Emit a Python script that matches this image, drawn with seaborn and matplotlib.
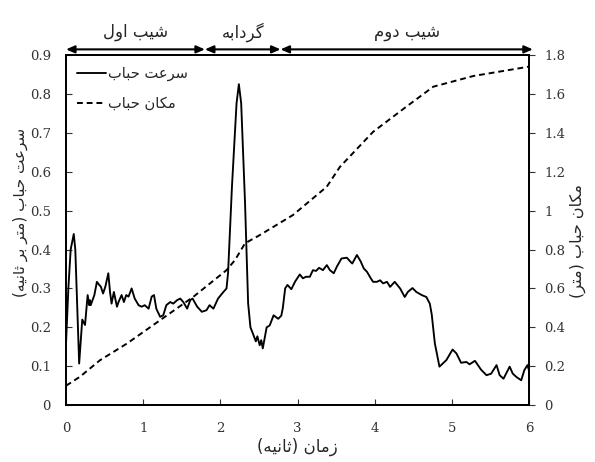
import matplotlib
matplotlib.use("Agg")
import matplotlib.pyplot as plt
import seaborn as sns

# bubble speed (m/s) vs time (s)
t_speed = [0.00, 0.03, 0.06, 0.10, 0.12, 0.17, 0.21, 0.246, 0.28, 0.30,
           0.31, 0.32, 0.367, 0.40, 0.43, 0.45, 0.48, 0.51, 0.548, 0.57,
           0.59, 0.62, 0.66, 0.68, 0.72, 0.75, 0.78, 0.81, 0.85, 0.89,
           0.94, 0.98, 1.02, 1.07, 1.11, 1.14, 1.17, 1.22, 1.26, 1.30,
           1.35, 1.39, 1.44, 1.48, 1.52, 1.57, 1.61, 1.64, 1.70, 1.76,
           1.82, 1.86, 1.91, 1.97, 2.04, 2.08, 2.10, 2.15, 2.21, 2.24,
           2.27, 2.32, 2.36, 2.39, 2.42, 2.46, 2.48, 2.51, 2.53, 2.55,
           2.60, 2.64, 2.69, 2.75, 2.79, 2.81, 2.84, 2.87, 2.92, 2.97,
           3.03, 3.07, 3.11, 3.16, 3.20, 3.24, 3.28, 3.33, 3.38, 3.42,
           3.47, 3.51, 3.57, 3.64, 3.68, 3.71, 3.77, 3.82, 3.86, 3.90,
           3.95, 3.98, 4.03, 4.07, 4.11, 4.16, 4.20, 4.26, 4.33, 4.39,
           4.43, 4.49, 4.54, 4.61, 4.67, 4.715, 4.74, 4.78, 4.84, 4.93,
           5.01, 5.06, 5.12, 5.19, 5.23, 5.30, 5.38, 5.45, 5.51, 5.58,
           5.62, 5.67, 5.75, 5.79, 5.84, 5.90, 5.94, 5.98, 6.00]
speed = [0.16, 0.30, 0.40, 0.44, 0.40, 0.107, 0.22, 0.206, 0.283, 0.257,
         0.27, 0.257, 0.283, 0.317, 0.309, 0.305, 0.287, 0.305, 0.339, 0.291,
         0.261, 0.291, 0.253, 0.265, 0.283, 0.265, 0.283, 0.279, 0.30, 0.274,
         0.257, 0.253, 0.257, 0.248, 0.279, 0.283, 0.248, 0.227, 0.231, 0.257,
         0.265, 0.261, 0.27, 0.274, 0.265, 0.248, 0.27, 0.274, 0.253, 0.24,
         0.244, 0.257, 0.248, 0.274, 0.291, 0.30, 0.34, 0.56, 0.776, 0.825,
         0.776, 0.52, 0.262, 0.20, 0.185, 0.164, 0.177, 0.154, 0.167, 0.146,
         0.20, 0.205, 0.231, 0.222, 0.23, 0.25, 0.30, 0.309, 0.298, 0.318,
         0.336, 0.326, 0.33, 0.33, 0.347, 0.345, 0.353, 0.347, 0.36, 0.347,
         0.339, 0.356, 0.377, 0.379, 0.37, 0.364, 0.386, 0.369, 0.351, 0.343,
         0.326, 0.317, 0.317, 0.321, 0.313, 0.317, 0.304, 0.317, 0.30, 0.278,
         0.291, 0.301, 0.291, 0.283, 0.278, 0.261, 0.233, 0.159, 0.099, 0.116,
         0.143, 0.133, 0.109, 0.111, 0.105, 0.114, 0.091, 0.077, 0.081, 0.103,
         0.077, 0.068, 0.099, 0.081, 0.072, 0.064, 0.09, 0.103, 0.09]

# bubble position (m) vs time (s)
t_pos = [0.00, 0.18, 0.44, 0.79, 1.22, 1.65, 2.08, 2.19, 2.32, 2.51, 2.94, 3.38, 3.55, 3.98,
         4.41, 4.76, 5.28, 6.00]
pos = [0.10, 0.146, 0.231, 0.317, 0.437, 0.557, 0.694, 0.746, 0.832, 0.874, 0.977, 1.123, 1.225,
       1.405, 1.534, 1.637, 1.692, 1.74]

# regions on top of the plot: (start, end, name)
regions = [(0.0, 1.8, "شیب اول"), (1.8, 2.78, "گردابه"), (2.78, 6.05, "شیب دوم")]

label_speed = "سرعت حباب"
label_pos = "مکان حباب"
xlabel = "زمان (ثانیه)"
ylabel_left = "سرعت حباب (متر بر ثانیه)"
ylabel_right = "مکان حباب (متر)"

# matplotlib has no arabic shaping: pick presentation forms and reverse by hand
FORMS = {
    "ا": "\uFE8D\uFE8E", "د": "\uFEA9\uFEAA", "ر": "\uFEAD\uFEAE", "ز": "\uFEAF\uFEB0",
    "و": "\uFEED\uFEEE",
    "ب": "\uFE8F\uFE90\uFE91\uFE92", "ت": "\uFE95\uFE96\uFE97\uFE98",
    "ث": "\uFE99\uFE9A\uFE9B\uFE9C", "ح": "\uFEA1\uFEA2\uFEA3\uFEA4",
    "س": "\uFEB1\uFEB2\uFEB3\uFEB4", "ش": "\uFEB5\uFEB6\uFEB7\uFEB8",
    "ع": "\uFEC9\uFECA\uFECB\uFECC", "ک": "\uFB8E\uFB8F\uFB90\uFB91",
    "گ": "\uFB92\uFB93\uFB94\uFB95", "ل": "\uFEDD\uFEDE\uFEDF\uFEE0",
    "م": "\uFEE1\uFEE2\uFEE3\uFEE4", "ن": "\uFEE5\uFEE6\uFEE7\uFEE8",
    "ه": "\uFEE9\uFEEA\uFEEB\uFEEC", "ی": "\uFBFC\uFBFD\uFBFE\uFBFF",
}


def fa(s):
    out = []
    for i, c in enumerate(s):
        if c not in FORMS:
            out.append({"(": ")", ")": "("}.get(c, c))
            continue
        prev = s[i - 1] if i > 0 else ""
        nxt = s[i + 1] if i + 1 < len(s) else ""
        joins_prev = prev in FORMS and len(FORMS[prev]) == 4
        joins_next = len(FORMS[c]) == 4 and nxt in FORMS
        if joins_prev and joins_next:
            k = 3
        elif joins_prev:
            k = 1
        elif joins_next:
            k = 2
        else:
            k = 0
        out.append(FORMS[c][k])
    return "".join(reversed(out))


sns.set_style("ticks")
plt.rcParams["font.family"] = ["DejaVu Serif"]
FA = ["DejaVu Sans"]

fig = plt.figure(figsize=(5.95, 4.62), dpi=100)
ax = fig.add_axes([0.111, 0.123, 0.778, 0.758])
ax2 = ax.twinx()

sns.lineplot(x=t_speed, y=speed, ax=ax, color="black", linewidth=1.35)
sns.lineplot(x=t_pos, y=pos, ax=ax2, color="black", linewidth=1.4, linestyle=(0, (3, 2)))

ax.set_xlim(0, 6)
ax.set_ylim(0, 0.9)
ax2.set_ylim(0, 1.8)
ax.set_xticks(range(7))
yt = [i / 10 for i in range(10)]
ax.set_yticks(yt)
ax.set_yticklabels([f"{v:g}" for v in yt])
yt2 = [i / 5 for i in range(10)]
ax2.set_yticks(yt2)
ax2.set_yticklabels([f"{v:g}" for v in yt2])

ax.tick_params(axis="both", direction="in", length=4, width=0.8, labelsize=9.5, colors="#333333")
ax.tick_params(axis="y", pad=11)
ax.tick_params(axis="x", pad=12)
ax2.tick_params(axis="y", direction="out", length=4, width=0.8, labelsize=9.5, pad=7, colors="#333333")
for a in (ax, ax2):
    for sp in a.spines.values():
        sp.set_linewidth(1.3)
        sp.set_color("black")

ax.set_xlabel(fa(xlabel), family=FA, fontsize=12, labelpad=2)
ax.set_ylabel(fa(ylabel_left), family=FA, fontsize=11)
ax.yaxis.set_label_coords(-0.083, 0.55)
ax2.set_ylabel(fa(ylabel_right), family=FA, fontsize=11.5, rotation=90)
ax2.yaxis.set_label_coords(1.088, 0.47)

h1 = ax.get_lines()[0]
h2 = ax2.get_lines()[0]
leg = ax2.legend([h1, h2], [fa(label_speed), fa(label_pos)], loc="upper left",
                 frameon=False, prop={"family": FA, "size": 10.5}, handlelength=2.0,
                 handletextpad=0.15, borderaxespad=0.55, borderpad=0.2, labelspacing=1.0)

for start, end, name in regions:
    ax.annotate("", xy=(start, 1.016), xytext=(end, 1.016),
                xycoords=("data", "axes fraction"), textcoords=("data", "axes fraction"),
                arrowprops=dict(arrowstyle="<|-|>,head_length=0.5,head_width=0.22",
                                color="black", lw=1.5, shrinkA=0, shrinkB=0))
    ax.text((start + end) / 2, 1.066, fa(name), transform=ax.get_xaxis_transform(),
            ha="center", va="center", family=FA, fontsize=12)

fig.savefig("out.png", dpi=100)
